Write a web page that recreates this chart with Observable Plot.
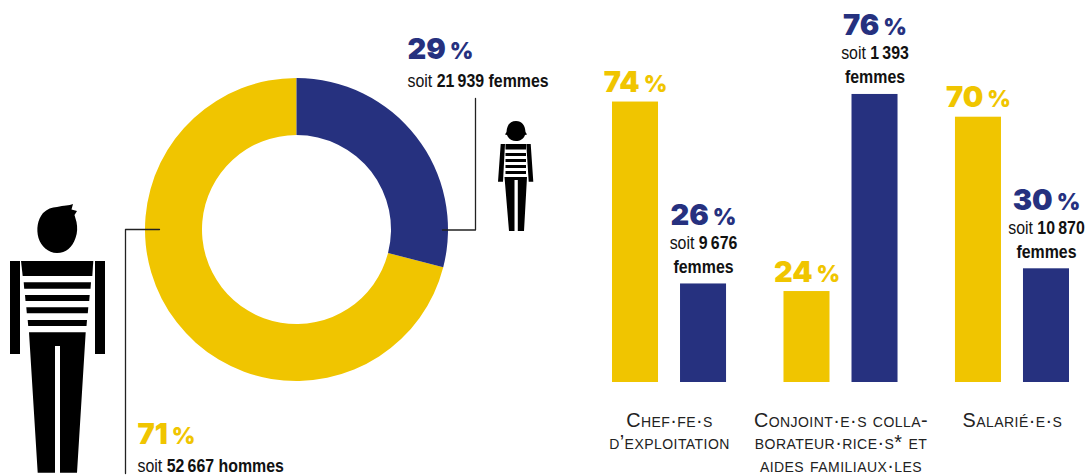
<!DOCTYPE html>
<html><head><meta charset="utf-8">
<script src="https://cdn.jsdelivr.net/npm/d3@7"></script>
<script src="https://cdn.jsdelivr.net/npm/@observablehq/plot@0.6"></script>
<style>
html,body{margin:0;padding:0;background:#fff}
#c{display:flex;width:1086px;height:476px;overflow:hidden}
svg{display:block;flex:none}
</style></head><body><div id="c"></div>
<script>
const categories = ["Chef·fe·s d’exploitation","Conjoint·e·s collaborateur·rice·s et aides familiaux·les","Salarié·e·s"];
const sexes = ["Hommes","Femmes"];
const hommesPct = [74,24,70];
const femmesPct = [26,76,30];
const femmesCount = ["9\u2009676","1\u2009393","10\u2009870"];
const categoryLines = [
  ["Chef·fe·s","d’exploitation"],
  ["Conjoint·e·s colla-","borateur·rice·s* et","aides familiaux·les"],
  ["Salarié·e·s"]
];
const donutSexes = ["Hommes","Femmes"];
const donutPct = [71,29];
const donutLabels = [
  {pct:"71\u2009%",detail:"soit |52\u2009667 hommes",sex:"Hommes"},
  {pct:"29\u2009%",detail:"soit |21\u2009939 femmes",sex:"Femmes"}
];
const YELLOW="#f0c500", BLUE="#26317f";
const NUM="Inter", COND="'Liberation Sans'", CAPS="'Liberation Sans'";

// "74 %" -> smaller %
const big = {lineAnchor:"bottom",render(index,scales,values,dims,ctx,next){
  const g=next(index,scales,values,dims,ctx);
  d3.select(g).selectAll("text").each(function(){
    const el=d3.select(this), t=el.text();
    const a=t.slice(0,-1); el.text(null);
    el.append("tspan").text(a);
    el.append("tspan").attr("font-size","0.78em").text("%");
  });
  return g;
}};
// "soit |9 676" -> regular + bold, in a narrowed face
const cond = {lineAnchor:"bottom",render(index,scales,values,dims,ctx,next){
  const g=next(index,scales,values,dims,ctx);
  d3.select(g).selectAll("text").each(function(){
    const el=d3.select(this), t=el.text();
    if(t.includes("|")){
      const [a,b]=t.split("|"); el.text(null);
      el.append("tspan").attr("font-weight",400).text(a);
      el.append("tspan").attr("font-weight",700).text(b);
    }
    el.attr("transform",(el.attr("transform")||"")+" scale(0.86,1)");
  });
  return g;
}};
const caps = {lineAnchor:"bottom",render(i,s,v,d,c,n){
  const g=n(i,s,v,d,c);
  d3.select(g).selectAll("text").style("font-variant","small-caps").style("letter-spacing","0.45px");
  return g;
}};

/* ---------- left: donut and figures ---------- */
function donut(index,{x,y}){
  const cx=x(296.5), cy=y(229.5);
  const pie=d3.pie().sort(null).startAngle(2*Math.PI).endAngle(0)(donutPct);
  const arc=d3.arc().innerRadius(94.5).outerRadius(151.5);
  const g=d3.create("svg:g").attr("transform",`translate(${cx},${cy})`);
  g.selectAll("path").data(pie).join("path").attr("d",arc)
    .attr("fill",(d,i)=>donutSexes[i]==="Hommes"?YELLOW:BLUE);
  return g.node();
}
function man(){
  const g=d3.create("svg:g").attr("fill","#000");
  g.append("path").attr("d","M57 207C64 205 69 206 73 204L71.500 209.500L77 211L74.500 215L76.500 222C77.500 227 77.500 233 75.500 238C72.500 247 66 253 57 253C48 253 41 246 38.500 238C36 229 37.500 220 43 213C47 209 52 207 57 207Z");
  g.append("path").attr("d","M10 261H20V354H10ZM95 261H105V354H95Z");
  g.append("path").attr("d","M21 261H93.300L92.300 276H22.700Z");
  g.append("path").attr("d","M23.700 282.300H91L90.500 288.700H24.200ZM25 295H89.700L89.200 301H25.500ZM26.300 307.300H88.300L87.800 313.300H26.800ZM27.700 320H87L86.500 326H28.200Z");
  g.append("path").attr("d","M29 332.300H85.700L77 472.700H60V346H55V472.700H37.700Z");
  return g.node();
}
function woman(){
  const g=d3.create("svg:g").attr("fill","#000");
  g.append("path").attr("d","M516 121C522 121 525 125 525.500 132L527 134.500L525 135C523.500 139 520 141 516 141C512 141 508.500 139 507 135L505 134.500L506.500 132C507 125 510 121 516 121Z");
  g.append("path").attr("d","M500.700 144H505L503 181.700H498ZM526.300 144H530.700L533.300 181.700H528.700Z");
  g.append("path").attr("d","M505.500 144H526V149.500H505.500ZM505.500 153H526V156H505.500ZM505.500 159H526V162H505.500ZM505.500 165H526V168H505.500ZM505.500 171H526V174H505.500Z");
  g.append("path").attr("d","M504.500 177H527L524 231H517.800V180H514.500V231H509Z");
  return g.node();
}
const leftText=[{x:407,y:58,...donutLabels[1]},{x:137,y:443,...donutLabels[0]}];
const left=Plot.plot({
  width:596,height:476,margin:0,
  x:{domain:[0,596],range:[0,596],axis:null},
  y:{domain:[0,476],range:[0,476],axis:null},
  marks:[
    donut,
    Plot.line([[442,229.500],[475,229.500],[475,98]],{stroke:"#222",strokeWidth:1.3}),
    Plot.line([[159,229],[125,229],[125,473]],{stroke:"#222",strokeWidth:1.3}),
    man,woman,
    Plot.text(leftText,{x:"x",y:"y",text:"pct",textAnchor:"start",fontFamily:NUM,fontWeight:900,fontSize:29,
      fill:d=>d.sex==="Hommes"?YELLOW:BLUE,...big}),
    Plot.text(leftText,{x:"x",y:"y",text:"detail",textAnchor:"start",fontFamily:COND,fontSize:18.500,fill:"#111",...cond,dy:28})
  ]
});
left.style.cssText="width:596px;height:476px;background:none";

/* ---------- right: bars ---------- */
const rows=categories.flatMap((c,i)=>[
  {cat:c,sex:sexes[0],v:hommesPct[i],n:null},
  {cat:c,sex:sexes[1],v:femmesPct[i],n:femmesCount[i]}
]);
const labelRows=categories.flatMap((c,i)=>categoryLines[i].map((t,j)=>({cat:c,t,j})));
const right=Plot.plot({
  width:490,height:476,marginLeft:16,marginRight:17,marginTop:3,marginBottom:94,
  fx:{domain:categories,axis:null,paddingInner:0.335,paddingOuter:0,round:false},
  x:{domain:sexes,axis:null,paddingInner:0.3235,paddingOuter:0,round:false},
  y:{domain:[0,100],axis:null},
  color:{domain:sexes,range:[YELLOW,BLUE]},
  marks:[
    Plot.barY(rows,{fx:"cat",x:"sex",y:"v",fill:"sex"}),
    Plot.text(rows.filter(d=>!d.n),{fx:"cat",x:"sex",y:"v",text:d=>d.v+"\u2009%",fontFamily:NUM,fontWeight:900,fontSize:29,
      fill:YELLOW,...big,dy:-10}),
    Plot.text(rows.filter(d=>d.n),{fx:"cat",x:"sex",y:"v",text:d=>d.v+"\u2009%",fontFamily:NUM,fontWeight:900,fontSize:29,
      fill:BLUE,...big,dy:-59}),
    Plot.text(rows.filter(d=>d.n),{fx:"cat",x:"sex",y:"v",text:d=>"soit |"+d.n,fontFamily:COND,fontSize:18.500,fill:"#111",
      ...cond,dy:-35}),
    Plot.text(rows.filter(d=>d.n),{fx:"cat",x:"sex",y:"v",text:()=>"femmes",fontFamily:COND,fontWeight:700,fontSize:18.500,fill:"#111",
      ...cond,dy:-11}),
    ...[0,1,2].map(j=>Plot.text(labelRows.filter(d=>d.j===j),{fx:"cat",y:()=>0,text:"t",fontFamily:CAPS,fontSize:19.8,fill:"#222",
      ...caps,dy:44+22.9*j}))
  ]
});
right.style.cssText="width:490px;height:476px;background:none";
document.getElementById("c").append(left,right);
</script></body></html>
